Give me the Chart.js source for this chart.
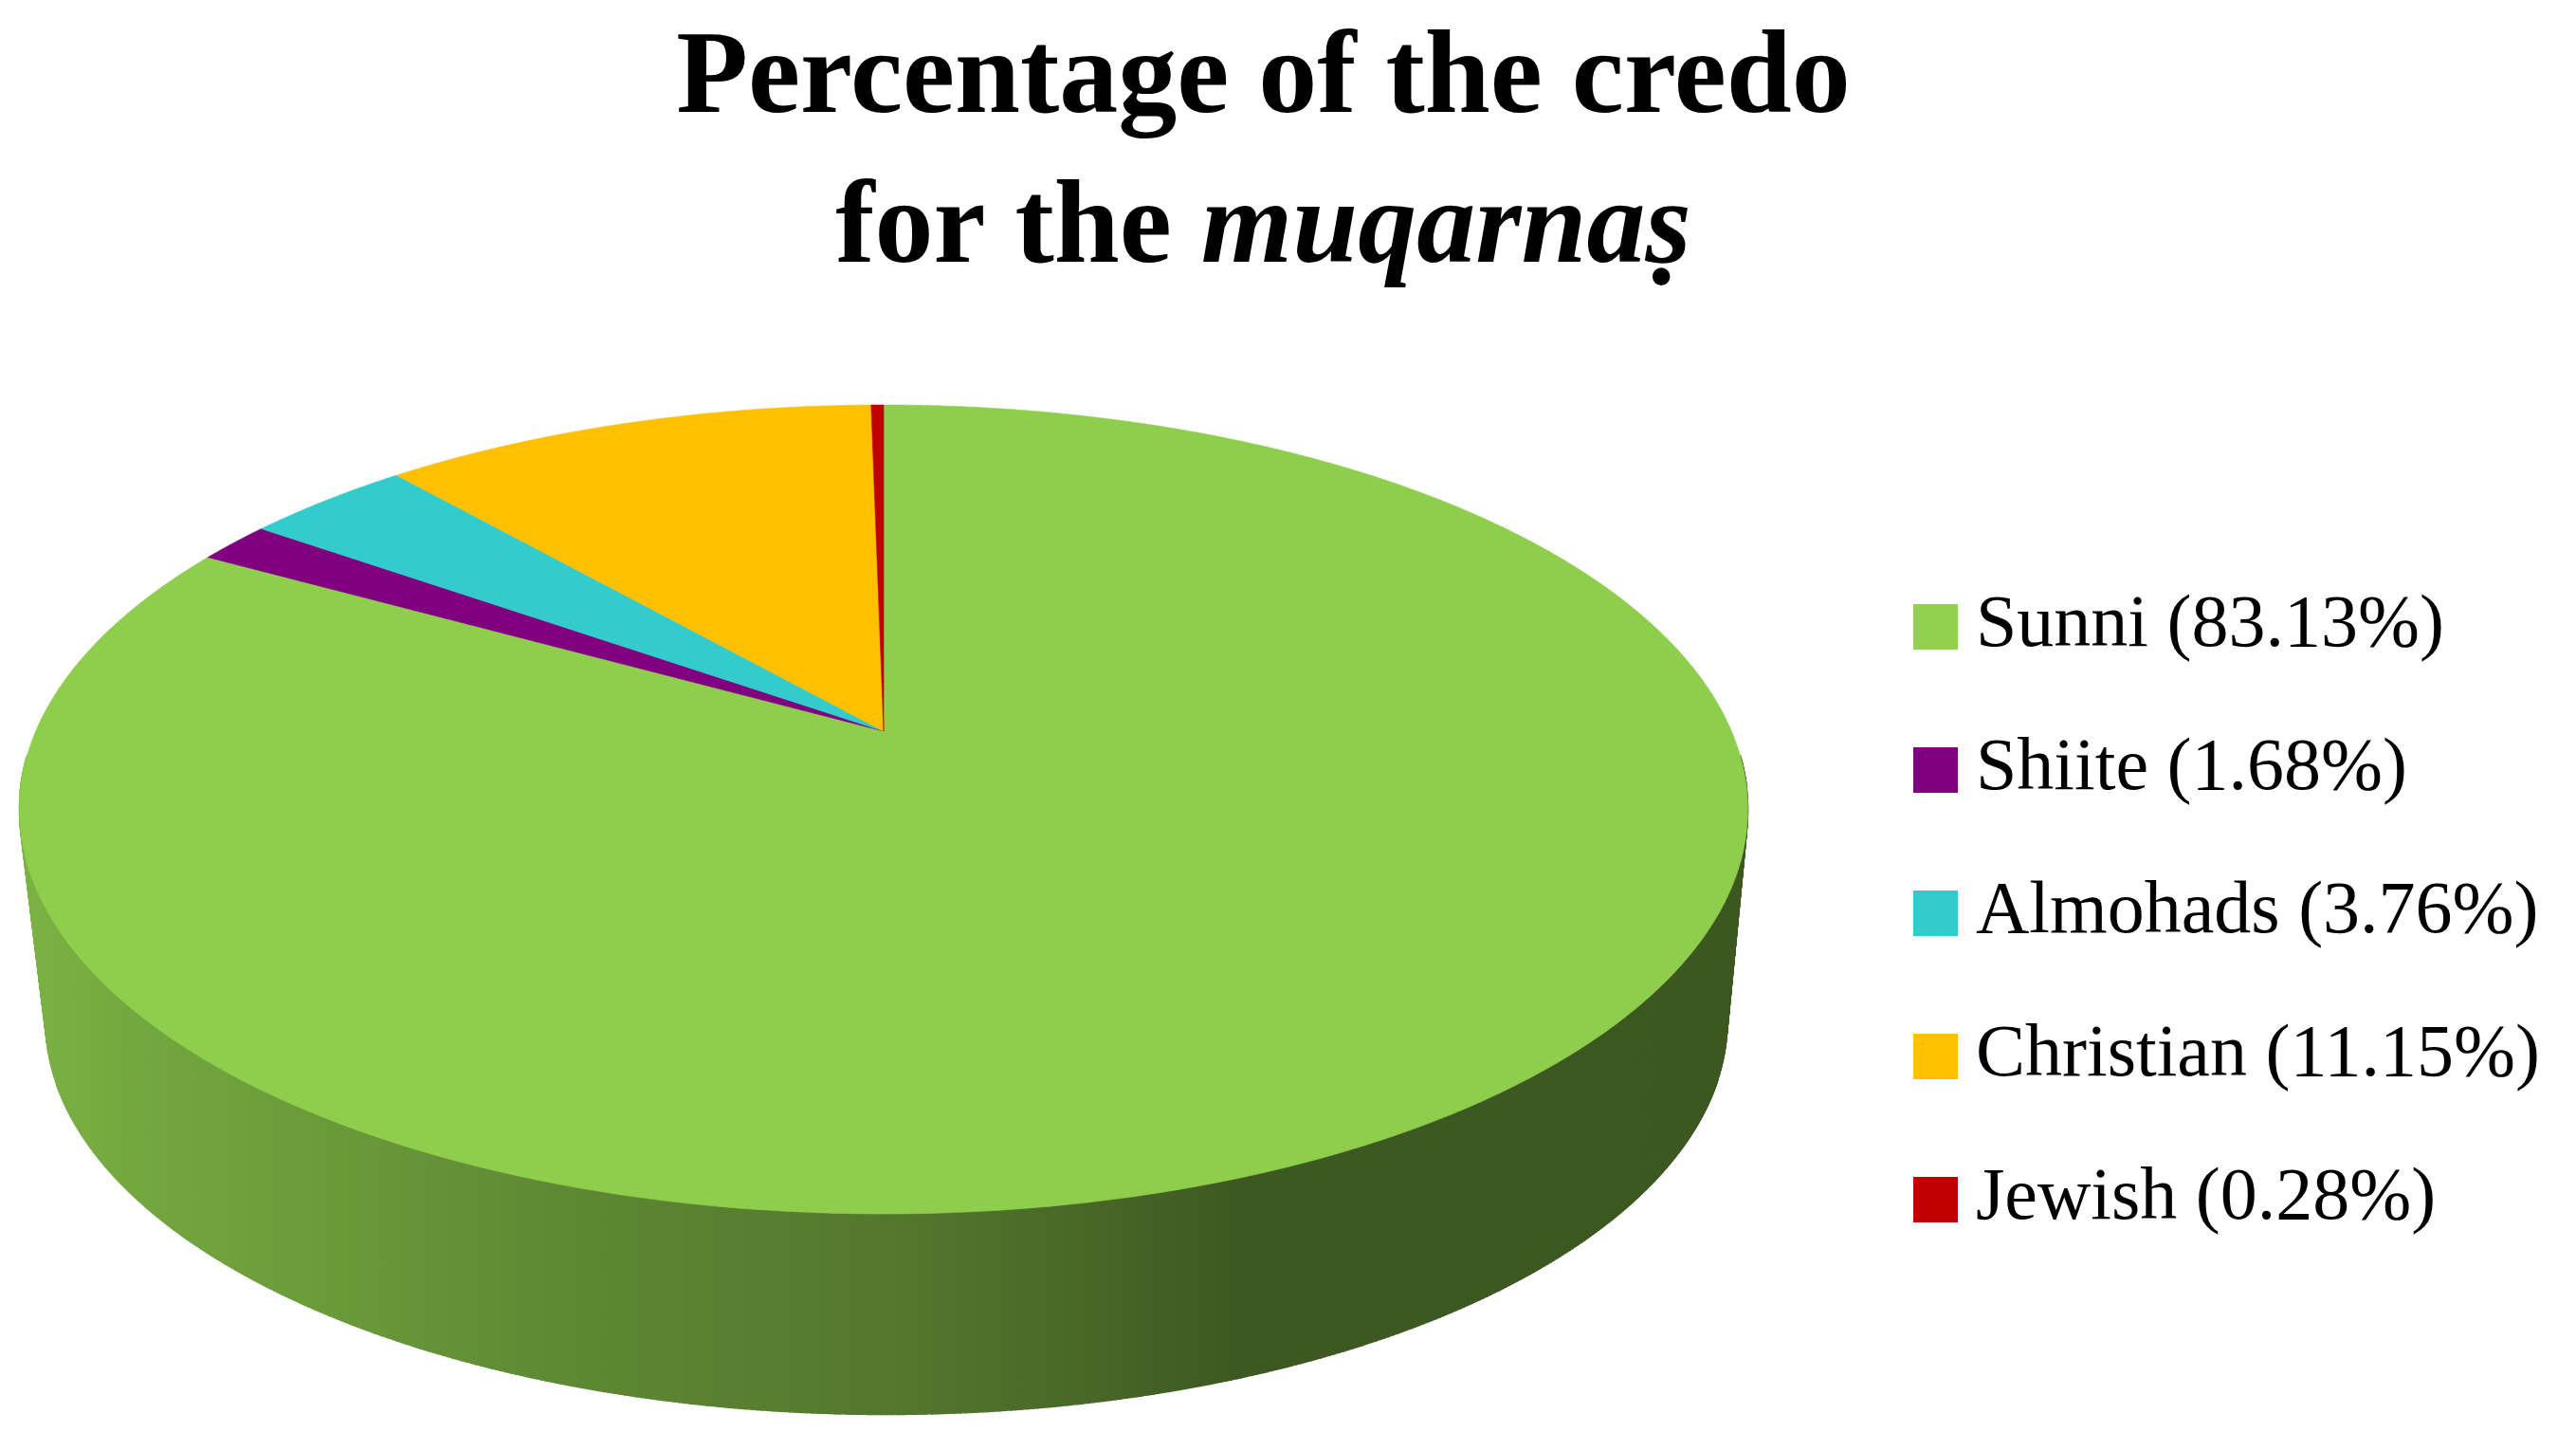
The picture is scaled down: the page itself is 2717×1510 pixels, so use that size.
<!DOCTYPE html>
<html>
<head>
<meta charset="utf-8">
<style>html,body{margin:0;padding:0;background:#fff}canvas{display:block}</style>
<script src="https://cdn.jsdelivr.net/npm/chart.js@4"></script>
</head>
<body>
<canvas id="c" width="2717" height="1510"></canvas>
<script>
const categories = ['Sunni', 'Shiite', 'Almohads', 'Christian', 'Jewish'];
const shares = [83.13, 1.68, 3.76, 11.15, 0.28];
const sliceColors = ['#8FCE4D', '#800080', '#33CCCC', '#FFC000', '#C00000'];
const legendColors = ['#92D050', '#800080', '#33CCCC', '#FFC000', '#C00000'];

const FONT = '"Liberation Serif", serif';
const G = {ax: 932, ay: 771, top: 427, bottom: 1280, left: 20, right: 1843, cx: 931, cy: 853, wallCx: 934, wallCy: 1076, wallScale: 0.973};
const rT = G.ay - G.top, rB = G.bottom - G.ay;
const pc = (rT - rB) / (rT + rB);
const pa = rT * (1 - pc);
const pd = ((G.right - G.left) / 2) * Math.sqrt(1 - pc * pc);
function rim(theta, r) {
  const x = r * Math.cos(theta), y = r * Math.sin(theta), w = 1 + pc * y;
  return [G.ax + pd * x / w, G.ay + pa * y / w];
}
function low(p) {
  return [G.wallCx + (p[0] - G.cx) * G.wallScale, G.wallCy + (p[1] - G.cy) * G.wallScale];
}
function shade(hex, k) {
  const n = parseInt(hex.slice(1), 16);
  return `rgb(${Math.round((n >> 16 & 255) * k)},${Math.round((n >> 8 & 255) * k)},${Math.round((n & 255) * k)})`;
}
const wallStops = [[20, .87], [170, .8], [300, .76], [600, .66], [950, .58], [1150, .5], [1300, .43], [1843, .42]];

const pie3d = {
  id: 'pie3d',
  beforeDatasetsDraw(chart) {
    const ctx = chart.ctx, arcs = chart.getDatasetMeta(0).data;
    arcs.forEach((arc, i) => {
      const g = ctx.createLinearGradient(G.left, 0, G.right, 0);
      wallStops.forEach(s => g.addColorStop((s[0] - G.left) / (G.right - G.left), shade(sliceColors[i], s[1])));
      ctx.fillStyle = g; ctx.strokeStyle = g; ctx.lineWidth = 1.5;
      const n = Math.max(2, Math.ceil((arc.endAngle - arc.startAngle) * 180));
      for (let k = 0; k < n; k++) {
        const a = arc.startAngle + (arc.endAngle - arc.startAngle) * k / n;
        const b = arc.startAngle + (arc.endAngle - arc.startAngle) * (k + 1) / n;
        const p = rim(a, 1), q = rim(b, 1), r = low(q), s = low(p);
        if (p[1] < 800 && q[1] < 800) continue;
        ctx.beginPath();
        ctx.moveTo(p[0], p[1]); ctx.lineTo(q[0], q[1]); ctx.lineTo(r[0], r[1]); ctx.lineTo(s[0], s[1]);
        ctx.closePath(); ctx.fill(); ctx.stroke();
      }
    });
    arcs.forEach((arc, i) => {
      ctx.fillStyle = sliceColors[i]; ctx.strokeStyle = sliceColors[i]; ctx.lineWidth = 0.6;
      const n = Math.max(8, Math.ceil((arc.endAngle - arc.startAngle) * 180));
      ctx.beginPath();
      ctx.moveTo(G.ax, G.ay);
      for (let k = 0; k <= n; k++) {
        const p = rim(arc.startAngle + (arc.endAngle - arc.startAngle) * k / n, 1);
        ctx.lineTo(p[0], p[1]);
      }
      ctx.closePath(); ctx.fill(); ctx.stroke();
    });
    return false;
  },
  afterDraw(chart) {
    const ctx = chart.ctx, mid = 1332.5;
    ctx.save();
    ctx.fillStyle = '#000'; ctx.textBaseline = 'alphabetic'; ctx.textAlign = 'left';
    const bold = `bold 124px ${FONT}`, ital = `italic bold 124px ${FONT}`;
    ctx.font = bold;
    const l1 = 'Percentage of the credo';
    ctx.fillText(l1, mid - ctx.measureText(l1).width / 2, 118);
    const a = 'for the ', b = 'muqarnaṣ';
    const wa = ctx.measureText(a).width;
    ctx.font = ital;
    const wb = ctx.measureText(b).width;
    ctx.font = bold;
    ctx.fillText(a, mid - (wa + wb) / 2, 276);
    ctx.font = ital;
    ctx.fillText(b, mid - (wa + wb) / 2 + wa, 276);
    ctx.restore();
  }
};

function tile(color) {
  const t = document.createElement('canvas');
  t.width = 47; t.height = 48;
  const x = t.getContext('2d');
  x.fillStyle = color; x.fillRect(0, 0, 47, 48);
  return t;
}
const tiles = legendColors.map(tile);

new Chart(document.getElementById('c'), {
  type: 'pie',
  data: {
    labels: categories,
    datasets: [{data: shares, backgroundColor: sliceColors, borderWidth: 0}]
  },
  plugins: [pie3d],
  options: {
    responsive: false,
    animation: false,
    layout: {padding: {top: 416, right: 28}},
    plugins: {
      title: {display: false},
      tooltip: {enabled: false},
      legend: {
        position: 'right',
        align: 'center',
        labels: {
          font: {family: FONT, size: 78},
          color: '#000',
          usePointStyle: true,
          boxHeight: 47,
          pointStyleWidth: 6,
          padding: 73,
          generateLabels() {
            return categories.map((c, i) => ({
              text: `${c} (${shares[i].toFixed(2)}%)`,
              fillStyle: legendColors[i],
              strokeStyle: legendColors[i],
              lineWidth: 0,
              pointStyle: tiles[i],
              hidden: false,
              index: i
            }));
          }
        }
      }
    }
  }
});
</script>
</body>
</html>
